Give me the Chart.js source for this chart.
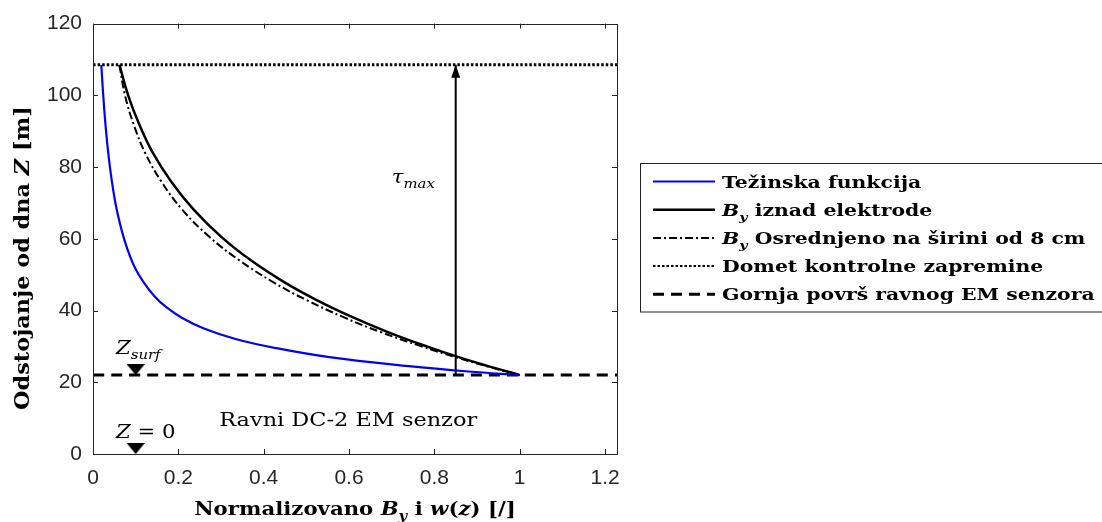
<!DOCTYPE html>
<html>
<head>
<meta charset="utf-8">
<script src="https://cdn.jsdelivr.net/npm/chart.js@4.4.1/dist/chart.umd.min.js"></script>
<style>
  body { margin: 0; background: #fff; }
  canvas { display: block; }
</style>
</head>
<body>
<canvas id="chart" width="1102" height="522"></canvas>
<script>
// axis ticks
const xTicks = [0, 0.2, 0.4, 0.6, 0.8, 1, 1.2];
const yTicks = [0, 20, 40, 60, 80, 100, 120];
const xMax = 1.228;
const yMax = 120;

// Tezinska funkcija (blue)
const tezX = [0.0195, 0.024, 0.0306, 0.0397, 0.0525, 0.068, 0.081, 0.098, 0.118, 0.144, 0.171, 0.208, 0.26, 0.336, 0.43, 0.554, 0.74, 0.88, 1.0];
const tezZ = [108.5, 100, 90, 80, 70, 62, 57, 52, 48, 44, 41, 38, 35, 32, 29.5, 27, 24.5, 23, 22];

// B_y iznad elektrode (black solid)
const byX = [0.062, 0.0824, 0.108, 0.14, 0.183, 0.237, 0.302, 0.37, 0.447, 0.523, 0.611, 0.691, 0.782, 0.857, 0.926, 1.0];
const byZ = [108.5, 100, 92, 84, 76, 68, 60.4, 54, 48, 43, 38, 34, 30, 27, 24.5, 22];

// B_y osrednjeno na sirini od 8 cm (dash-dot)
const avgX = [0.062, 0.075, 0.095, 0.122, 0.16, 0.21, 0.274, 0.343, 0.421, 0.499, 0.59, 0.674, 0.77, 0.85, 0.922, 1.0];
const avgZ = [108.5, 100, 92, 84, 76, 68, 60.4, 54, 48, 43, 38, 34, 30, 27, 24.5, 22];

// horizontal reference lines
const dometX = [0, xMax];
const dometZ = [108.5, 108.5];
const gornjaX = [0, xMax];
const gornjaZ = [22, 22];

// tau_max arrow and triangle markers
const arrowX = [0.85, 0.85];
const arrowZ = [22, 108.5];
const markerX = [0.1, 0.1];
const markerZ = [23.5, 1.5];

const labels = [
  'Težinska funkcija',
  '$B_y$ iznad elektrode',
  '$B_y$ Osrednjeno na širini od 8 cm',
  'Domet kontrolne zapremine',
  'Gornja površ ravnog EM senzora'
];

const notes = [
  { text: '$Z_{surf}$', x: 0.054, z: 28, size: 18 },
  { text: '$Z = 0$', x: 0.054, z: 4.4, size: 18 },
  { text: 'Ravni DC-2 EM senzor', x: 0.598, z: 7.8, size: 19, align: 'center' },
  { text: '$τ_{max}$', x: 0.70, z: 75.6, size: 18 }
];

const SERIF = '"DejaVu Serif", serif';
const AXIS = '#262626';
const SX = 1.18;

function pts(xs, zs) {
  return xs.map((x, i) => ({ x: x, y: zs[i] }));
}

function parseRich(str) {
  const segs = [];
  str.split('$').forEach((p, i) => {
    if (i % 2 === 0) {
      if (p) segs.push({ t: p, it: false, sub: false });
      return;
    }
    let j = 0;
    while (j < p.length) {
      const c = p[j];
      if (c === '_') {
        let s;
        if (p[j + 1] === '{') {
          const k = p.indexOf('}', j);
          s = p.slice(j + 2, k);
          j = k + 1;
        } else {
          s = p[j + 1];
          j += 2;
        }
        segs.push({ t: s, it: true, sub: true });
      } else {
        segs.push({ t: c, it: /[A-Za-zα-ωτ]/.test(c), sub: false });
        j++;
      }
    }
  });
  return segs;
}

function drawRich(ctx, str, x, y, o) {
  const size = o.size || 18;
  const segs = parseRich(str);
  const font = s => (o.bold ? 'bold ' : '') + (s.it ? 'italic ' : '') + (s.sub ? size * 0.7 : size) + 'px ' + SERIF;
  let w = 0;
  segs.forEach(s => { ctx.font = font(s); s.w = ctx.measureText(s.t).width; w += s.w; });
  ctx.save();
  ctx.translate(x, y);
  if (o.rotate) ctx.rotate(-Math.PI / 2);
  ctx.scale(o.sx || SX, 1);
  ctx.fillStyle = o.color || '#000';
  ctx.textBaseline = 'alphabetic';
  ctx.textAlign = 'left';
  let cx = o.align === 'center' ? -w / 2 : (o.align === 'right' ? -w : 0);
  segs.forEach(s => {
    ctx.font = font(s);
    ctx.fillText(s.t, cx, s.sub ? size * 0.3 : 0);
    cx += s.w;
  });
  ctx.restore();
}

// flat downward triangle used as marker
function makeTriangle(w, h) {
  const c = document.createElement('canvas');
  c.width = w;
  c.height = h;
  const g = c.getContext('2d');
  g.fillStyle = '#000';
  g.beginPath();
  g.moveTo(0, 0);
  g.lineTo(w, 0);
  g.lineTo(w / 2, h);
  g.closePath();
  g.fill();
  return c;
}

const decor = {
  id: 'decor',
  beforeDraw(chart) {
    const ctx = chart.ctx;
    ctx.save();
    ctx.fillStyle = '#fff';
    ctx.fillRect(0, 0, chart.width, chart.height);
    ctx.restore();
  },
  afterDraw(chart) {
    const ctx = chart.ctx;
    const a = chart.chartArea;
    const xs = chart.scales.x, ys = chart.scales.y;

    // box and inward ticks
    ctx.save();
    ctx.strokeStyle = AXIS;
    ctx.lineWidth = 1;
    ctx.strokeRect(Math.round(a.left) + 0.5, Math.round(a.top) + 0.5, Math.round(a.right - a.left), Math.round(a.bottom - a.top));
    ctx.beginPath();
    xTicks.forEach(v => {
      const px = Math.round(xs.getPixelForValue(v)) + 0.5;
      ctx.moveTo(px, a.bottom); ctx.lineTo(px, a.bottom - 5);
      ctx.moveTo(px, a.top); ctx.lineTo(px, a.top + 5);
    });
    yTicks.forEach(v => {
      const py = Math.round(ys.getPixelForValue(v)) + 0.5;
      ctx.moveTo(a.left, py); ctx.lineTo(a.left + 5, py);
      ctx.moveTo(a.right, py); ctx.lineTo(a.right - 5, py);
    });
    ctx.stroke();
    ctx.restore();

    // arrow head on tau_max
    const tx = xs.getPixelForValue(arrowX[1]);
    const ty = ys.getPixelForValue(arrowZ[1]);
    ctx.save();
    ctx.fillStyle = '#000';
    ctx.beginPath();
    ctx.moveTo(tx, ty);
    ctx.lineTo(tx - 4.5, ty + 13);
    ctx.lineTo(tx + 4.5, ty + 13);
    ctx.closePath();
    ctx.fill();
    ctx.restore();

    // annotations
    notes.forEach(n => {
      drawRich(ctx, n.text, xs.getPixelForValue(n.x), ys.getPixelForValue(n.z), { size: n.size, align: n.align });
    });

    // axis titles
    drawRich(ctx, 'Normalizovano $B_y$ i $w(z)$ [/]', (a.left + a.right) / 2, 515, { size: 18, bold: true, align: 'center' });
    drawRich(ctx, 'Odstojanje od dna $Z$ [m]', 29, 258, { size: 20, bold: true, align: 'center', rotate: true, sx: 1.12 });

    // legend
    ctx.save();
    ctx.strokeStyle = '#222';
    ctx.lineWidth = 1;
    ctx.fillStyle = '#fff';
    ctx.fillRect(640.5, 163.5, 470, 148.5);
    ctx.strokeRect(640.5, 163.5, 470, 148.5);
    ctx.restore();
    chart.data.datasets.filter(d => d.inLegend).forEach((d, i) => {
      const base = 187.5 + i * 28.2;
      const ly = base - 6;
      ctx.save();
      ctx.strokeStyle = d.borderColor;
      ctx.lineWidth = d.legendWidth || d.borderWidth;
      ctx.setLineDash(d.borderDash || []);
      ctx.beginPath();
      ctx.moveTo(653, ly);
      ctx.lineTo(715, ly);
      ctx.stroke();
      ctx.restore();
      drawRich(ctx, d.label, 722, base, { size: 17, bold: true, sx: 1.2 });
    });
  }
};

const lineDefaults = { showLine: true, pointRadius: 0, fill: false, tension: 0.4 };

new Chart(document.getElementById('chart'), {
  type: 'scatter',
  data: {
    datasets: [
      Object.assign({ label: labels[0], data: pts(tezX, tezZ), borderColor: '#0000ff', borderWidth: 2.2, inLegend: true }, lineDefaults),
      Object.assign({ label: labels[1], data: pts(byX, byZ), borderColor: '#000', borderWidth: 2.5, inLegend: true }, lineDefaults),
      Object.assign({ label: labels[2], data: pts(avgX, avgZ), borderColor: '#000', borderWidth: 2, borderDash: [8, 3, 2, 3], inLegend: true }, lineDefaults),
      Object.assign({ label: labels[3], data: pts(dometX, dometZ), borderColor: '#000', borderWidth: 3, borderDash: [2.5, 2], legendWidth: 2, inLegend: true }, lineDefaults),
      Object.assign({ label: labels[4], data: pts(gornjaX, gornjaZ), borderColor: '#000', borderWidth: 3, borderDash: [11, 7], inLegend: true }, lineDefaults),
      Object.assign({ label: 'tau', data: pts(arrowX, arrowZ), borderColor: '#000', borderWidth: 2 }, lineDefaults),
      { label: 'markers', data: pts(markerX, markerZ), showLine: false, pointStyle: makeTriangle(18, 11), pointRadius: 9 }
    ]
  },
  options: {
    responsive: false,
    animation: false,
    devicePixelRatio: 1,
    layout: { padding: { top: 22, right: 485, left: 0, bottom: 0 } },
    plugins: { legend: { display: false }, tooltip: { enabled: false } },
    scales: {
      x: {
        type: 'linear',
        min: 0,
        max: xMax,
        grid: { display: false, drawTicks: false },
        border: { display: false },
        afterBuildTicks: s => { s.ticks = xTicks.map(v => ({ value: v })); },
        afterFit: s => { s.height = 68; },
        ticks: {
          callback: v => String(v),
          padding: 12,
          color: AXIS,
          font: { family: '"Liberation Sans", Arial, sans-serif', size: 21 }
        }
      },
      y: {
        type: 'linear',
        min: 0,
        max: yMax,
        grid: { display: false, drawTicks: false },
        border: { display: false },
        afterBuildTicks: s => { s.ticks = yTicks.map(v => ({ value: v })); },
        afterFit: s => { s.width = 93; },
        ticks: {
          callback: v => String(v),
          padding: 11,
          color: AXIS,
          font: { family: '"Liberation Sans", Arial, sans-serif', size: 21 }
        }
      }
    }
  },
  plugins: [decor]
});
</script>
</body>
</html>
